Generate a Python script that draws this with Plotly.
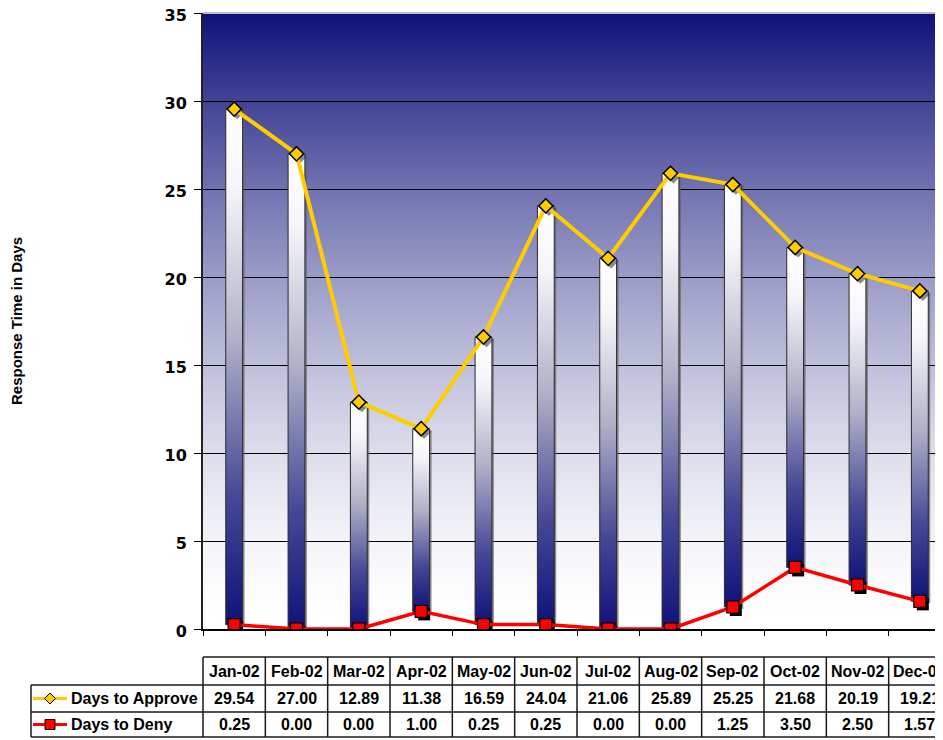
import base64
import struct
import zlib
import plotly.graph_objects as go

# ---------------- data ----------------
months = ["Jan-02", "Feb-02", "Mar-02", "Apr-02", "May-02", "Jun-02",
          "Jul-02", "Aug-02", "Sep-02", "Oct-02", "Nov-02", "Dec-02"]
days_to_approve = [29.54, 27.00, 12.89, 11.38, 16.59, 24.04,
                   21.06, 25.89, 25.25, 21.68, 20.19, 19.21]
days_to_deny = [0.25, 0.00, 0.00, 1.00, 0.25, 0.25,
                0.00, 0.00, 1.25, 3.50, 2.50, 1.57]
y_ticks = [0, 5, 10, 15, 20, 25, 30, 35]
series_names = ["Days to Approve", "Days to Deny"]

# ---------------- styles ----------------
NAVY = (16, 18, 122)
GOLD = "#FFCC00"
RED = "#FF0000"
OFF = 8                      # page body margin
W, H = 943, 740
ML, MT = 195, 5
PH = 616
MB = H - MT - PH
PW = W - ML
X0, X1 = -0.5, 11.5
Y0, Y1 = 0, 35
BAR_HALF = 0.135


def grad_png(n=256, gamma=1.55):
    rows = b""
    for k in range(n):
        t = k / (n - 1)            # 0 top -> 1 bottom
        f = (1 - t) ** gamma       # amount of navy
        px = bytes(int(round(255 - (255 - c) * f)) for c in NAVY)
        rows += b"\x00" + px * 2
    def chunk(tag, data):
        c = struct.pack(">I", len(data)) + tag + data
        return c + struct.pack(">I", zlib.crc32(tag + data) & 0xFFFFFFFF)
    png = b"\x89PNG\r\n\x1a\n"
    png += chunk(b"IHDR", struct.pack(">IIBBBBB", 2, n, 8, 2, 0, 0, 0))
    png += chunk(b"IDAT", zlib.compress(rows, 9))
    png += chunk(b"IEND", b"")
    return "data:image/png;base64," + base64.b64encode(png).decode()


def xp(v):  # data x -> paper
    return (v - X0) / (X1 - X0)


def xpix(p):  # page pixel x -> paper
    return (p - OFF - ML) / PW


def ypix(p):  # page pixel y -> paper
    return (MT + PH - (p - OFF)) / PH


fig = go.Figure()

dx = 2 * (X1 - X0) / PW
dy = 2 * (Y1 - Y0) / PH
# bar shadows
for i, (lo, hi) in enumerate(zip(days_to_deny, days_to_approve)):
    xs = [i - BAR_HALF + dx, i + BAR_HALF + dx, i + BAR_HALF + dx, i - BAR_HALF + dx, i - BAR_HALF + dx]
    ys = [lo - dy, lo - dy, hi - dy, hi - dy, lo - dy]
    fig.add_trace(go.Scatter(x=xs, y=ys, mode="lines", fill="toself",
                             fillcolor="rgba(100,100,100,0.7)", line=dict(width=0),
                             hoverinfo="skip", showlegend=False))
# high-low bars with gradient
navy_css = "rgb(%d,%d,%d)" % NAVY
for i, (lo, hi) in enumerate(zip(days_to_deny, days_to_approve)):
    xs = [i - BAR_HALF, i + BAR_HALF, i + BAR_HALF, i - BAR_HALF, i - BAR_HALF]
    ys = [lo, lo, hi, hi, lo]
    fig.add_trace(go.Scatter(
        x=xs, y=ys, mode="lines", fill="toself",
        fillgradient=dict(type="vertical",
                          colorscale=[[0, navy_css], [0.25, "rgb(70,72,150)"],
                                      [0.55, "rgb(175,175,200)"], [0.85, "rgb(246,246,250)"],
                                      [1, "rgb(255,255,255)"]]),
        line=dict(color="#2a2a2a", width=1),
        hoverinfo="skip", showlegend=False))

idx = list(range(len(months)))
# marker shadows (overlay axes shifted by a few pixels)
fig.add_trace(go.Scatter(x=idx, y=days_to_deny, mode="markers", xaxis="x2", yaxis="y2",
                         marker=dict(symbol="square", size=12, color="black"),
                         hoverinfo="skip", showlegend=False))
fig.add_trace(go.Scatter(x=idx, y=days_to_approve, mode="markers", xaxis="x2", yaxis="y2",
                         marker=dict(symbol="diamond", size=11, color="rgba(60,60,60,0.6)"),
                         hoverinfo="skip", showlegend=False))
# main lines
fig.add_trace(go.Scatter(x=idx, y=days_to_approve, mode="lines+markers", name=series_names[0],
                         xaxis="x3", yaxis="y3",
                         line=dict(color=GOLD, width=4),
                         marker=dict(symbol="diamond", size=11, color=GOLD,
                                     line=dict(color="black", width=1.5)),
                         showlegend=False))
fig.add_trace(go.Scatter(x=idx, y=days_to_deny, mode="lines+markers", name=series_names[1],
                         xaxis="x3", yaxis="y3",
                         line=dict(color=RED, width=3.5),
                         marker=dict(symbol="square", size=12, color=RED,
                                     line=dict(color="black", width=1.2)),
                         showlegend=False))

sx = 3 * (X1 - X0) / PW
sy = 3 * (Y1 - Y0) / PH

# ---------------- table ----------------
shapes = []
annotations = []
LINE = dict(color="#1a1a1a", width=1.5)
y_top, y_r1, y_r2, y_bot = 657, 685, 712, 737
x_lab = 31
shapes.append(dict(type="line", xref="paper", yref="paper", x0=0, x1=1,
                   y0=ypix(y_top), y1=ypix(y_top), line=LINE))
for yy in (y_r1, y_r2, y_bot):
    shapes.append(dict(type="line", xref="paper", yref="paper", x0=xpix(x_lab), x1=1,
                       y0=ypix(yy), y1=ypix(yy), line=LINE))
for i in range(len(months)):
    xv = xp(i - 0.5)
    shapes.append(dict(type="line", xref="paper", yref="paper", x0=xv, x1=xv,
                       y0=ypix(y_top), y1=ypix(y_bot), line=LINE))
shapes.append(dict(type="line", xref="paper", yref="paper", x0=xpix(x_lab), x1=xpix(x_lab),
                   y0=ypix(y_r1), y1=ypix(y_bot), line=LINE))
# top border of plot area
shapes.append(dict(type="line", xref="paper", yref="paper", x0=0, x1=1, y0=1, y1=1,
                   line=dict(color="#bdbdbd", width=2)))

TFONT = dict(family="Liberation Sans, Arial", size=16, color="black", weight="bold")
row_c = [(y_top + y_r1) / 2, (y_r1 + y_r2) / 2, (y_r2 + y_bot) / 2]
for i, m in enumerate(months):
    annotations.append(dict(text=m, x=xp(i), y=ypix(row_c[0]), xref="paper", yref="paper",
                            showarrow=False, xanchor="center", yanchor="middle", font=TFONT))
    annotations.append(dict(text=f"{days_to_approve[i]:.2f}", x=xp(i), y=ypix(row_c[1]),
                            xref="paper", yref="paper", showarrow=False,
                            xanchor="center", yanchor="middle", font=TFONT))
    annotations.append(dict(text=f"{days_to_deny[i]:.2f}", x=xp(i), y=ypix(row_c[2]),
                            xref="paper", yref="paper", showarrow=False,
                            xanchor="center", yanchor="middle", font=TFONT))
for k, name in enumerate(series_names):
    annotations.append(dict(text=name, x=xpix(69), y=ypix(row_c[k + 1]), xref="paper",
                            yref="paper", showarrow=False, xanchor="left", yanchor="middle",
                            font=TFONT))

# legend glyphs
for k, col in enumerate([GOLD, RED]):
    yc = ypix(row_c[k + 1])
    shapes.append(dict(type="line", xref="paper", yref="paper", x0=xpix(33), x1=xpix(67),
                       y0=yc, y1=yc, line=dict(color=col, width=3)))
cx, cy = xpix(50), ypix(row_c[1])
hx, hy = 5.5 / PW, 5.5 / PH
shapes.append(dict(type="path", xref="paper", yref="paper",
                   path=f"M {cx-hx},{cy} L {cx},{cy+hy} L {cx+hx},{cy} L {cx},{cy-hy} Z",
                   fillcolor=GOLD, line=dict(color="black", width=1)))
cy2 = ypix(row_c[2])
shapes.append(dict(type="rect", xref="paper", yref="paper",
                   x0=xpix(45), x1=xpix(55), y0=cy2 - 5 / PH, y1=cy2 + 5 / PH,
                   fillcolor=RED, line=dict(color="black", width=1)))

# axis title
annotations.append(dict(text="Response Time in Days", x=xpix(16), y=0.5, xref="paper",
                        yref="paper", showarrow=False, textangle=-90,
                        xanchor="center", yanchor="middle",
                        font=dict(family="Liberation Sans, Arial", size=15, color="black",
                                  weight="bold")))

fig.update_layout(
    width=W, height=H,
    margin=dict(l=ML, r=0, t=MT, b=MB),
    paper_bgcolor="white",
    plot_bgcolor="rgba(0,0,0,0)",
    showlegend=False,
    images=[dict(source=grad_png(), xref="paper", yref="paper", x=0, y=1, sizex=1, sizey=1,
                 sizing="stretch", layer="below", xanchor="left", yanchor="top")],
    xaxis=dict(range=[X0, X1], tickvals=[i - 0.5 for i in range(len(months) + 1)],
               showticklabels=False, ticks="outside", ticklen=5, tickcolor="black",
               showgrid=False, zeroline=False, showline=True, linecolor="black", linewidth=1.5,
               automargin=False),
    yaxis=dict(range=[Y0, Y1], tickvals=y_ticks, ticks="outside", ticklen=7,
               tickcolor="black", showgrid=True, gridcolor="black", gridwidth=1,
               zeroline=False, showline=True, linecolor="#222", linewidth=2,
               ticklabelstandoff=4, ticklabeloverflow="allow", automargin=False,
               ticklabelshift=2,
               tickfont=dict(family="DejaVu Sans, Verdana", size=16, color="black",
                             weight="bold")),
    xaxis2=dict(range=[X0 - sx, X1 - sx], overlaying="x", visible=False),
    yaxis2=dict(range=[Y0 + sy, Y1 + sy], overlaying="y", visible=False),
    xaxis3=dict(range=[X0, X1], overlaying="x", visible=False),
    yaxis3=dict(range=[Y0, Y1], overlaying="y", visible=False),
    shapes=shapes,
    annotations=annotations,
)

fig.write_html("out.html")
